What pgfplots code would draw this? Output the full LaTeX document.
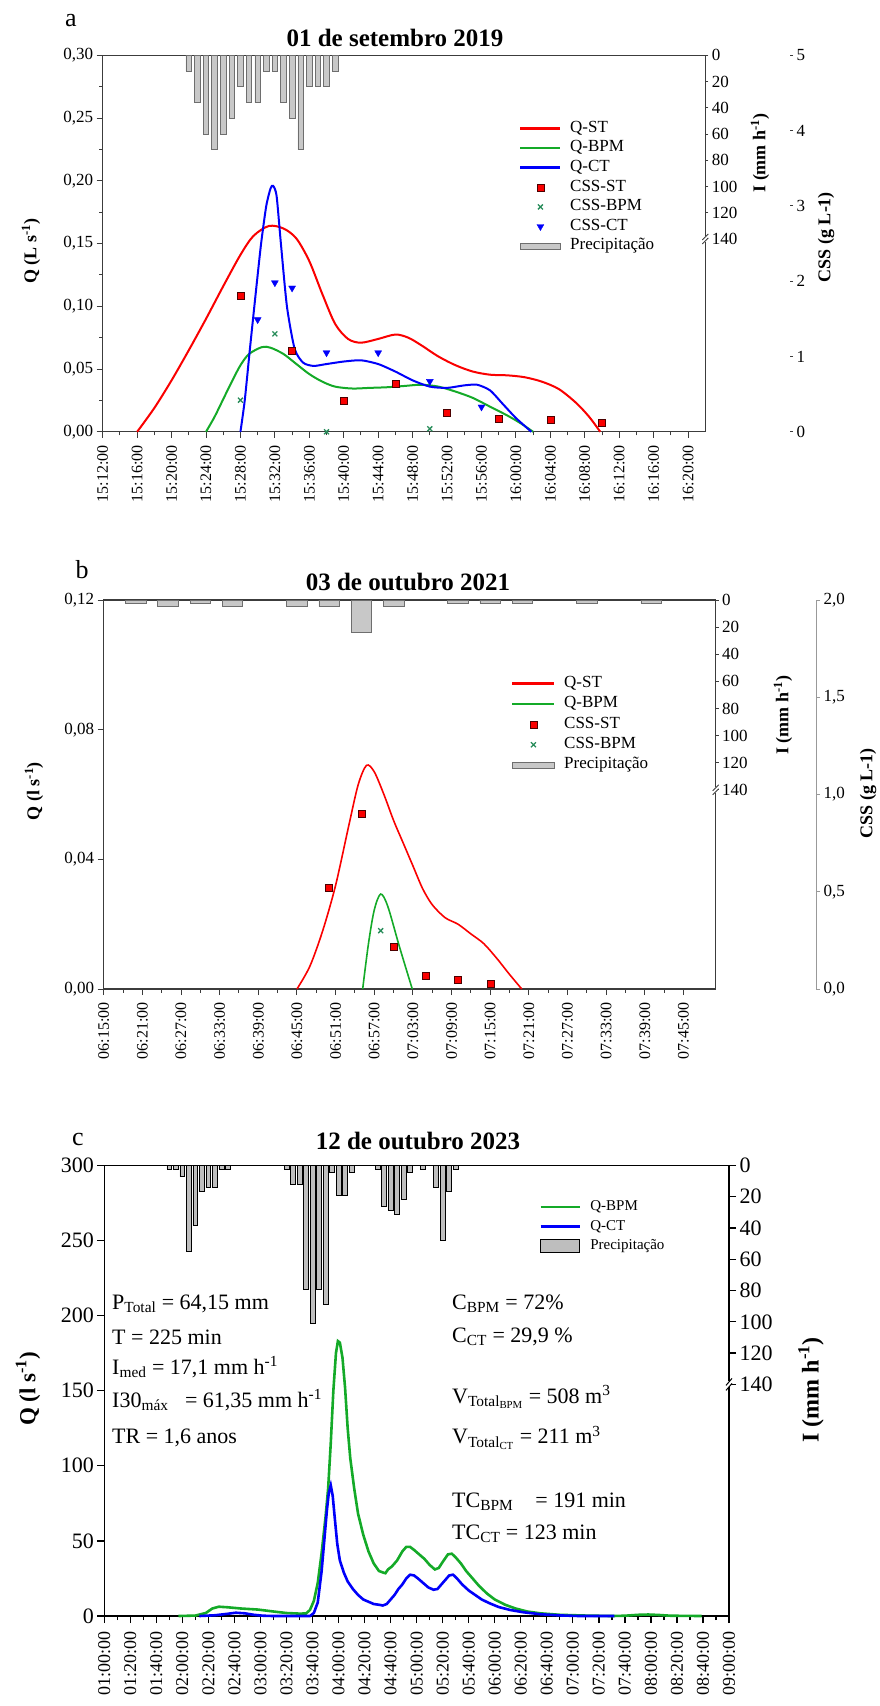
\documentclass[border=0pt]{standalone}
\usepackage{fontspec}
\setmainfont{Liberation Serif}
\usepackage{pgfplots}
\pgfplotsset{compat=1.18}
\definecolor{qred}{RGB}{250,0,0}
\definecolor{qgreen}{RGB}{20,170,40}
\definecolor{qblue}{RGB}{0,0,250}
\definecolor{cgreen}{RGB}{40,140,90}
\definecolor{pfill}{RGB}{200,200,200}
\definecolor{pedge}{RGB}{110,110,110}
\definecolor{axcol}{RGB}{60,60,60}
\newcommand{\fz}[1]{\fontsize{#1}{#1}\selectfont}
\pgfplotsset{
  base/.style={scale only axis, anchor=south west, clip=false,
    /pgf/number format/assume math mode=true,
    tick align=outside, major tick length=6pt, minor tick length=3.5pt},
}
\begin{document}
\begin{tikzpicture}
\path[use as bounding box] (0pt,0pt) rectangle (880pt,-1706pt);

%================ PANEL A ================
\begin{axis}[base, at={(102.7pt,-431.8pt)}, width=602.6pt, height=376.5pt,
  xmin=0, xmax=70, ymin=0, ymax=0.3,
  xtick={0,4,...,68},
  xticklabels={15:12:00,15:16:00,15:20:00,15:24:00,15:28:00,15:32:00,15:36:00,15:40:00,15:44:00,15:48:00,15:52:00,15:56:00,16:00:00,16:04:00,16:08:00,16:12:00,16:16:00,16:20:00},
  minor x tick num=1,
  ytick={0,0.05,0.1,0.15,0.2,0.25,0.3}, minor y tick num=1,
  xtick pos=left, ytick pos=left,
  axis line style={axcol, line width=1.2pt}, tick style={axcol, line width=1pt},
  yticklabel style={font=\fz{17}, /pgf/number format/.cd, fixed, fixed zerofill, precision=2, use comma},
  xticklabel style={font=\fz{16}, rotate=90, anchor=east, xshift=0pt},
  xticklabel shift=4pt,
]
\addplot[qred, line width=2pt, smooth, tension=0.5] coordinates {
(4,0) (6,0.019) (8,0.041) (10,0.065) (12,0.090) (14,0.116) (16,0.141) (17.5,0.156) (19.3,0.164) (21,0.162) (22.5,0.154) (24,0.136) (25.5,0.110) (27,0.086) (28.5,0.074) (30,0.071) (32,0.074) (34,0.0775) (35.5,0.075) (37,0.069) (39,0.060) (41,0.053) (43,0.048) (45,0.0455) (47,0.045) (49,0.0435) (51,0.040) (53,0.034) (55,0.023) (56.5,0.012) (57.8,0)};
\addplot[qgreen, line width=2pt, smooth, tension=0.5] coordinates {
(12,0) (13,0.012) (14,0.026) (15,0.040) (16,0.053) (17,0.062) (18.5,0.0675) (19.5,0.067) (21,0.062) (22.5,0.054) (24,0.046) (25.5,0.040) (27,0.036) (29,0.0345) (31,0.035) (33,0.0355) (35,0.0365) (37,0.0375) (39,0.036) (41,0.032) (43,0.027) (45,0.020) (47,0.013) (48.5,0.007) (50,0)};
\addplot[qblue, line width=2pt, smooth, tension=0.4] coordinates {
(16,0) (16.5,0.025) (17.1,0.066) (17.8,0.112) (18.4,0.150) (19,0.180) (19.5,0.194) (19.8,0.196) (20.2,0.188) (20.7,0.150) (21.4,0.100) (22.3,0.066) (23.3,0.055) (24.5,0.0525) (26,0.054) (28,0.056) (30,0.057) (32,0.054) (34,0.048) (36,0.041) (38,0.036) (40,0.035) (42,0.037) (43.5,0.0375) (45,0.033) (46.5,0.022) (48,0.011) (49.8,0)};
\end{axis}

\begin{axis}[base, at={(102.7pt,-431.8pt)}, width=602.6pt, height=376.5pt,
  xmin=0, xmax=70, ymin=0, ymax=287, y dir=reverse,
  axis x line=none, axis y line*=right, ytick={0,20,...,140},
  axis line style={axcol, line width=1.2pt}, tick style={axcol, line width=1pt},
  major tick length=3pt,
  yticklabel style={font=\fz{17}},
]
\addplot[ybar, bar width=0.65, bar shift=0pt, fill=pfill, draw=pedge, line width=0.7pt] coordinates {
(10,12) (11,36) (12,60) (13,72) (14,60) (15,48) (16,24) (17,36) (18,36) (19,12) (20,12) (21,36) (22,48) (23,72) (24,24) (25,24) (26,24) (27,12)};
\draw[white, line width=4pt] (axis cs:70,140) ++(0,-3pt) -- ++(0,6pt);
\draw[axcol, line width=0.8pt] (axis cs:70,140) ++(-3pt,-5pt) -- ++(6pt,6pt);
\draw[axcol, line width=0.8pt] (axis cs:70,140) ++(-3pt,-1pt) -- ++(6pt,6pt);
\end{axis}

\begin{axis}[base, at={(102.7pt,-431.8pt)}, width=602.6pt, height=376.5pt,
  xmin=0, xmax=70, ymin=0, ymax=5, hide axis,
  legend style={draw=none, fill=none, at={(0.6908,0.8321)}, anchor=north west,
    font=\fz{17}, inner sep=0pt, row sep=0pt,
    nodes={inner sep=1.5pt, text height=12pt, text depth=4.6pt},
    /tikz/every odd column/.append style={column sep=7pt}},
  legend cell align=left,
  legend image code/.code={\draw[mark repeat=2,mark phase=2,#1] plot coordinates {(0pt,0pt)(20pt,0pt)(40pt,0pt)};},
]
\addplot[forget plot, only marks, mark=square*, mark size=3.5pt, mark options={fill=qred, draw=black!70!red, line width=0.4pt}] coordinates {
(16,1.81) (22,1.08) (28,0.41) (34,0.64) (40,0.25) (46,0.17) (52,0.16) (58,0.12)};
\addplot[forget plot, only marks, mark=x, mark size=3.5pt, mark options={draw=cgreen, line width=1.3pt}] coordinates {
(16,0.42) (20,1.30) (26,0) (38,0.04)};
\addplot[forget plot, only marks, mark=triangle*, mark size=4pt, mark options={fill=qblue, draw=qblue, rotate=180}] coordinates {
(18,1.49) (20,1.98) (22,1.91) (26,1.05) (32,1.05) (38,0.67) (44,0.33)};
\addlegendimage{qred, line width=2.5pt}
\addlegendentry{Q-ST}
\addlegendimage{qgreen, line width=2.5pt}
\addlegendentry{Q-BPM}
\addlegendimage{qblue, line width=2.5pt}
\addlegendentry{Q-CT}
\addlegendimage{only marks, mark=square*, mark size=3.5pt, mark options={fill=qred, draw=black!70!red, line width=0.4pt}}
\addlegendentry{CSS-ST}
\addlegendimage{only marks, mark=x, mark size=3.5pt, mark options={draw=cgreen, line width=1.3pt}}
\addlegendentry{CSS-BPM}
\addlegendimage{only marks, mark=triangle*, mark size=4pt, mark options={fill=qblue, draw=qblue, rotate=180}}
\addlegendentry{CSS-CT}
\addlegendimage{legend image code/.code={\draw[fill=pfill, draw=pedge, line width=0.7pt] (0pt,-3pt) rectangle (40pt,3pt);}}
\addlegendentry{Precipitação}
\end{axis}

\begin{axis}[base, at={(102.7pt,-431.8pt)}, width=687.3pt, height=376.5pt,
  xmin=0, xmax=1, ymin=0, ymax=5,
  axis x line=none, axis y line*=right, y axis line style={draw=none},
  ytick={0,1,2,3,4,5}, major tick length=3pt, tick style={axcol, line width=1pt},
  yticklabel style={font=\fz{17}},
]
\addplot[draw=none, forget plot] coordinates {(0,0)};
\end{axis}

\node[font=\fz{26}] at (71pt,-21pt) {a};
\node[font=\bfseries\fz{25}] at (395pt,-38pt) {01 de setembro 2019};
\node[font=\bfseries\fz{18}, rotate=90] at (31pt,-251pt) {Q (L s\textsuperscript{-1})};
\node[font=\bfseries\fz{18}, rotate=90] at (760pt,-153pt) {I (mm h\textsuperscript{-1})};
\node[font=\bfseries\fz{18}, rotate=90] at (826pt,-237pt) {CSS (g L-1)};

%================ PANEL B ================
\begin{axis}[base, at={(103.7pt,-989pt)}, width=612pt, height=389pt,
  xmin=0, xmax=95, ymin=0, ymax=0.12,
  xtick={0,6,...,90},
  xticklabels={06:15:00,06:21:00,06:27:00,06:33:00,06:39:00,06:45:00,06:51:00,06:57:00,07:03:00,07:09:00,07:15:00,07:21:00,07:27:00,07:33:00,07:39:00,07:45:00},
  minor x tick num=1,
  ytick={0,0.04,0.08,0.12},
  xtick pos=left, ytick pos=left,
  axis line style={axcol, line width=1.2pt}, tick style={axcol, line width=1pt},
  yticklabel style={font=\fz{17}, /pgf/number format/.cd, fixed, fixed zerofill, precision=2, use comma},
  xticklabel style={font=\fz{16}, rotate=90, anchor=east},
  xticklabel shift=4pt,
]
\addplot[qred, line width=1.6pt, smooth, tension=0.5] coordinates {
(30,0) (32,0.007) (34,0.018) (36,0.032) (38,0.050) (39.5,0.063) (40.8,0.069) (42,0.067) (43.5,0.060) (45,0.052) (46.5,0.045) (48,0.038) (49.5,0.031) (51,0.026) (53,0.022) (55,0.020) (57,0.017) (59,0.014) (61,0.0095) (63,0.0045) (64.9,0)};
\addplot[qgreen, line width=1.6pt, smooth, tension=0.5] coordinates {
(40.2,0) (41.1,0.014) (42,0.0244) (43,0.0293) (44.1,0.0255) (45.9,0.0131) (47.9,0)};
\end{axis}

\begin{axis}[base, at={(103.7pt,-989pt)}, width=612pt, height=389pt,
  xmin=0, xmax=95, ymin=0, ymax=287, y dir=reverse,
  axis x line=none, axis y line*=right, ytick={0,20,...,140},
  axis line style={axcol, line width=1.2pt}, tick style={axcol, line width=1pt},
  major tick length=3pt,
  yticklabel style={font=\fz{17}},
]
\addplot[ybar, bar width=3.2, bar shift=0pt, fill=pfill, draw=pedge, line width=0.7pt] coordinates {
(5,2.4) (10,4.8) (15,2.4) (20,4.8) (30,4.8) (35,4.8) (40,24) (45,4.8) (55,2.4) (60,2.4) (65,2.4) (75,2.4) (85,2.4)};
\draw[white, line width=4pt] (axis cs:95,140) ++(0,-3pt) -- ++(0,6pt);
\draw[axcol, line width=0.8pt] (axis cs:95,140) ++(-3pt,-5pt) -- ++(6pt,6pt);
\draw[axcol, line width=0.8pt] (axis cs:95,140) ++(-3pt,-1pt) -- ++(6pt,6pt);
\end{axis}

\begin{axis}[base, at={(103.7pt,-989pt)}, width=612pt, height=389pt,
  xmin=0, xmax=95, ymin=0, ymax=2, hide axis,
  legend style={draw=none, fill=none, at={(0.6655,0.812)}, anchor=north west,
    font=\fz{17}, inner sep=0pt, row sep=0pt,
    nodes={inner sep=1.5pt, text height=12.5pt, text depth=4.9pt},
    /tikz/every odd column/.append style={column sep=7pt}},
  legend cell align=left,
  legend image code/.code={\draw[mark repeat=2,mark phase=2,#1] plot coordinates {(0pt,0pt)(21pt,0pt)(42pt,0pt)};},
]
\addplot[forget plot, only marks, mark=square*, mark size=3.5pt, mark options={fill=qred, draw=black!70!red, line width=0.4pt}] coordinates {
(35,0.52) (40,0.90) (45,0.218) (50,0.069) (55,0.050) (60,0.027)};
\addplot[forget plot, only marks, mark=x, mark size=3.5pt, mark options={draw=cgreen, line width=1.3pt}] coordinates {
(43,0.30)};
\addlegendimage{qred, line width=2.5pt}
\addlegendentry{Q-ST}
\addlegendimage{qgreen, line width=2.5pt}
\addlegendentry{Q-BPM}
\addlegendimage{only marks, mark=square*, mark size=3.5pt, mark options={fill=qred, draw=black!70!red, line width=0.4pt}}
\addlegendentry{CSS-ST}
\addlegendimage{only marks, mark=x, mark size=3.5pt, mark options={draw=cgreen, line width=1.3pt}}
\addlegendentry{CSS-BPM}
\addlegendimage{legend image code/.code={\draw[fill=pfill, draw=pedge, line width=0.7pt] (0pt,-3pt) rectangle (42pt,3pt);}}
\addlegendentry{Precipitação}
\end{axis}

\begin{axis}[base, at={(103.7pt,-989pt)}, width=712.3pt, height=389pt,
  xmin=0, xmax=1, ymin=0, ymax=2,
  axis x line=none, axis y line*=right, y axis line style={draw=black!40, line width=1pt},
  ytick={0,0.5,1,1.5,2}, major tick length=4pt, tick style={black!40, line width=1pt},
  yticklabel style={font=\fz{17}, /pgf/number format/.cd, fixed, fixed zerofill, precision=1, use comma},
]
\addplot[draw=none, forget plot] coordinates {(0,0)};
\end{axis}

\node[font=\fz{26}] at (82pt,-570pt) {b};
\node[font=\bfseries\fz{25}] at (408pt,-582pt) {03 de outubro 2021};
\node[font=\bfseries\fz{18}, rotate=90] at (34pt,-791pt) {Q (l s\textsuperscript{-1})};
\node[font=\bfseries\fz{18}, rotate=90] at (783pt,-715pt) {I (mm h\textsuperscript{-1})};
\node[font=\bfseries\fz{18}, rotate=90] at (868pt,-793pt) {CSS (g L-1)};

%================ PANEL C ================
\begin{axis}[base, at={(104.3pt,-1616pt)}, width=624.7pt, height=450.7pt,
  xmin=0, xmax=480, ymin=0, ymax=300,
  xtick={0,20,...,480},
  xticklabels={01:00:00,01:20:00,01:40:00,02:00:00,02:20:00,02:40:00,03:00:00,03:20:00,03:40:00,04:00:00,04:20:00,04:40:00,05:00:00,05:20:00,05:40:00,06:00:00,06:20:00,06:40:00,07:00:00,07:20:00,07:40:00,08:00:00,08:20:00,08:40:00,09:00:00},
  minor x tick num=1,
  ytick={0,50,...,300},
  xtick pos=left, ytick pos=left,
  major tick length=7pt, minor tick length=4pt,
  axis line style={black, line width=1.5pt}, tick style={black, line width=1.3pt},
  yticklabel style={font=\fz{22}},
  xticklabel style={font=\fz{18}, rotate=90, anchor=east},
  xticklabel shift=5pt,
]
\addplot[qgreen, line width=2.6pt] coordinates {
(57,0) (70,0.3) (78,2) (83,5) (88,6.2) (95,5.8) (105,5) (118,4.3) (130,3) (140,2) (150,1.6) (155,1.7) (158,4) (161,10) (164,22) (167,42) (170,66) (172,85) (174,115) (176,150) (178,175) (179.5,183) (181,182) (183,172) (185,152) (187,125) (189,105) (192,85) (195,68) (199,54) (203,43) (207,35) (211,30) (214,29) (216,28.5) (218,31) (221,33) (225,37) (229,43) (232,46) (235,46) (238,44) (242,41) (246,38) (250,34) (254,31) (257,32) (260,36) (264,41) (267,41.5) (270,39) (274,35) (278,30) (283,25) (288,20) (294,15) (300,11) (308,7.5) (316,5) (325,3) (335,1.8) (350,0.8) (370,0.3) (390,0) (400,0.2) (410,0.8) (418,1) (426,0.7) (435,0.2) (459,0)};
\addplot[qblue, line width=2.6pt] coordinates {
(73,0) (85,0.5) (95,1.5) (101,2.2) (108,1.8) (115,0.8) (122,0.2) (130,0) (158,0) (161,2) (164,9) (167,30) (169,50) (171,70) (172.5,82) (174,87) (175.5,80) (177,66) (179,48) (181,37) (184,29) (187,23) (191,18) (195,14) (199,11) (203,9.5) (207,8) (211,7.5) (214,7) (217,8) (220,11) (223,14) (226,18) (229,21) (232,25) (235,27.5) (238,27) (241,25) (245,22) (249,19) (253,17.5) (256,18) (259,21) (262,24) (265,27) (268,27.5) (271,25) (275,21) (280,17) (285,14) (290,11) (296,8.5) (303,6) (312,4) (322,2.5) (335,1.2) (350,0.4) (365,0) (392,0)};
\end{axis}

\begin{axis}[base, at={(104.3pt,-1616pt)}, width=624.7pt, height=450.7pt,
  xmin=0, xmax=480, ymin=0, ymax=288, y dir=reverse,
  axis x line=none, axis y line*=right, ytick={0,20,...,140},
  major tick length=7pt,
  axis line style={black, line width=1.5pt}, tick style={black, line width=1.3pt},
  yticklabel style={font=\fz{22}},
  legend style={draw=none, fill=none, at={(0.6959,0.930)}, anchor=north west,
    font=\fz{15}, inner sep=0pt, row sep=0pt,
    nodes={inner sep=1.5pt, text height=12pt, text depth=4.7pt},
    /tikz/every odd column/.append style={column sep=8pt}},
  legend cell align=left,
  legend image code/.code={\draw[mark repeat=2,mark phase=2,#1] plot coordinates {(0pt,0pt)(19.5pt,0pt)(39pt,0pt)};},
]
\addplot[forget plot, ybar, bar width=3.8, bar shift=0pt, fill=pfill!95!black, draw=black, line width=0.8pt] coordinates {
(50,2.4) (55,2.4) (60,7.2) (65,55.2) (70,38.4) (75,16.8) (80,14.4) (85,14.4) (90,2.4) (95,2.4)
(140,2.4) (145,12) (150,12) (155,79.2) (160,100.8) (165,79.2) (170,88.8) (175,4.8) (180,19.2) (185,19.2) (190,4.8)
(210,2.4) (215,26.4) (220,28.8) (225,31.2) (230,21.6) (235,4.8) (245,2.4) (255,14.4) (260,48) (265,16.8) (270,2.4)};
\draw[white, line width=4pt] (axis cs:480,140) ++(0,-3pt) -- ++(0,6pt);
\draw[black, line width=1pt] (axis cs:480,140) ++(-3pt,-6pt) -- ++(6pt,7pt);
\draw[black, line width=1pt] (axis cs:480,140) ++(-3pt,-1pt) -- ++(6pt,7pt);
\addlegendimage{qgreen, line width=2.6pt}
\addlegendentry{Q-BPM}
\addlegendimage{qblue, line width=2.6pt}
\addlegendentry{Q-CT}
\addlegendimage{legend image code/.code={\draw[fill=pfill!95!black, draw=black, line width=0.8pt] (0pt,-6.5pt) rectangle (39pt,6.5pt);}}
\addlegendentry{Precipitação}
\end{axis}

\node[font=\fz{26}] at (78pt,-1139pt) {c};
\node[font=\bfseries\fz{25}] at (418pt,-1141pt) {12 de outubro 2023};
\node[font=\bfseries\fz{23}, rotate=90] at (28pt,-1389pt) {Q (l s\textsuperscript{-1})};
\node[font=\bfseries\fz{24}, rotate=90] at (811pt,-1390pt) {I (mm h\textsuperscript{-1})};

\begin{scope}[every node/.style={anchor=west, font=\fz{22}, inner sep=0pt}]
\node at (112pt,-1304pt) {P\textsubscript{Total} = 64,15 mm};
\node at (112pt,-1337pt) {T = 225 min};
\node at (112pt,-1367pt) {I\textsubscript{med} = 17,1 mm h\textsuperscript{-1}};
\node at (112pt,-1400pt) {I30\textsubscript{máx}\ \ \ = 61,35 mm h\textsuperscript{-1}};
\node at (112pt,-1438pt) {TR = 1,6 anos};
\node at (452pt,-1304pt) {C\textsubscript{BPM} = 72\%};
\node at (452pt,-1337pt) {C\textsubscript{CT} = 29,9 \%};
\node at (452pt,-1397pt) {V\textsubscript{Total\textsubscript{BPM}} = 508 m\textsuperscript{3}};
\node at (452pt,-1438pt) {V\textsubscript{Total\textsubscript{CT}} = 211 m\textsuperscript{3}};
\node at (452pt,-1502pt) {TC\textsubscript{BPM}\ \ \ \ = 191 min};
\node at (452pt,-1534pt) {TC\textsubscript{CT} = 123 min};
\end{scope}
\end{tikzpicture}
\end{document}
